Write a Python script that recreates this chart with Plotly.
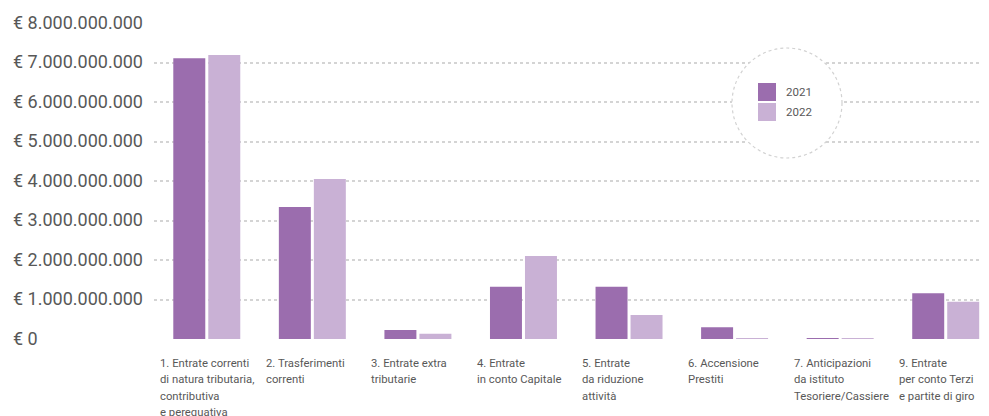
import plotly.graph_objects as go

categories = [
    "1. Entrate correnti<br>di natura tributaria,<br>contributiva<br>e perequativa",
    "2. Trasferimenti<br>correnti",
    "3. Entrate extra<br>tributarie",
    "4. Entrate<br>in conto Capitale",
    "5. Entrate<br>da riduzione<br>attività",
    "6. Accensione<br>Prestiti",
    "7. Anticipazioni<br>da istituto<br>Tesoriere/Cassiere",
    "9. Entrate<br>per conto Terzi<br>e partite di giro",
]
series_names = ["2021", "2022"]
values_2021 = [7.11e9, 3.34e9, 0.23e9, 1.32e9, 1.32e9, 0.30e9, 0.02e9, 1.16e9]
values_2022 = [7.19e9, 4.05e9, 0.13e9, 2.10e9, 0.61e9, 0.02e9, 0.02e9, 0.94e9]
tick_values = [0, 1e9, 2e9, 3e9, 4e9, 5e9, 6e9, 7e9, 8e9]
tick_labels = ["€ 0", "€ 1.000.000.000", "€ 2.000.000.000", "€ 3.000.000.000",
               "€ 4.000.000.000", "€ 5.000.000.000", "€ 6.000.000.000",
               "€ 7.000.000.000", "€ 8.000.000.000"]

colors = ["#9b6dae", "#c9b1d5"]
text_color = "#585858"
FONT = "Roboto, Liberation Sans, sans-serif"

x_idx = list(range(len(categories)))

fig = go.Figure()
for name, vals, col in zip(series_names, [values_2021, values_2022], colors):
    fig.add_trace(go.Bar(x=x_idx, y=vals, name=name, marker=dict(color=col, line=dict(width=0)),
                         showlegend=False, hoverinfo="skip"))

# page body adds an 8px margin; work in window pixels and subtract it
OFF = 8
W, H = 989 - OFF, 416 - OFF
ml, mr, mt, mb = 154 - OFF, 0, 23 - OFF, 77
pw, ph = W - ml - mr, H - mt - mb

def px_x(p):
    return (p - OFF - ml) / pw

def px_y(p):
    return (H - mb - (p - OFF)) / ph

annotations = []
for v, lab in zip(tick_values, tick_labels):
    annotations.append(dict(x=0, xref="paper", xshift=-143, xanchor="left",
                            y=v, yref="y", yanchor="middle", yshift=1,
                            text=lab, showarrow=False,
                            font=dict(family=FONT, size=18, color=text_color)))
LINE_H = 16.5
for i, lab in enumerate(categories):
    for k, line in enumerate(lab.split("<br>")):
        annotations.append(dict(x=i - 0.46, xref="x", xanchor="left",
                                y=0, yref="y", yanchor="middle",
                                yshift=-(24 + LINE_H * k),
                                text=line, showarrow=False, align="left",
                                font=dict(family=FONT, size=11.3, color=text_color)))

shapes = [dict(type="circle", xref="paper", yref="paper",
               x0=px_x(732), x1=px_x(842), y0=px_y(158), y1=px_y(48),
               fillcolor="white", line=dict(color="#d2d2d2", width=1.2, dash="dot"),
               layer="above")]
leg_rows = [(83, 101), (103, 121)]
for (t, b), name, col in zip(leg_rows, series_names, colors):
    shapes.append(dict(type="rect", xref="paper", yref="paper",
                       x0=px_x(758), x1=px_x(776), y0=px_y(b), y1=px_y(t),
                       fillcolor=col, line=dict(width=0), layer="above"))
    annotations.append(dict(x=px_x(784), xref="paper", xanchor="left",
                            y=px_y((t + b) / 2), yref="paper", yanchor="middle",
                            text=name, showarrow=False,
                            font=dict(family=FONT, size=11.5, color=text_color)))

fig.update_layout(
    width=W, height=H,
    margin=dict(l=ml, r=mr, t=mt, b=mb, pad=0),
    paper_bgcolor="white", plot_bgcolor="white",
    barmode="group", bargap=0.337, bargroupgap=0.086,
    font=dict(family=FONT, color=text_color),
    xaxis=dict(range=[-0.5, 7.41], showticklabels=False, showgrid=False,
               zeroline=False, showline=False, ticks=""),
    yaxis=dict(range=[0, 8e9], tickvals=tick_values, showticklabels=False,
               showgrid=True, gridcolor="#d4d4d4", gridwidth=1.5, griddash="dot",
               zeroline=False, showline=False, ticks=""),
    annotations=annotations, shapes=shapes,
)

fig.write_html("out.html")
